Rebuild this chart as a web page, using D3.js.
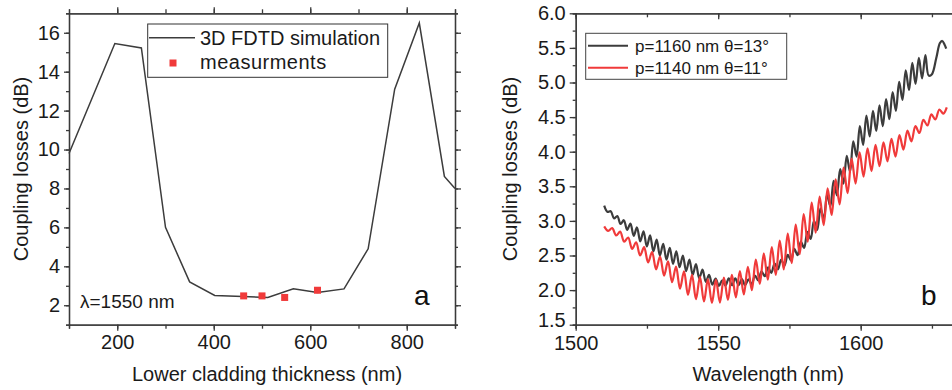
<!DOCTYPE html>
<html><head><meta charset="utf-8">
<script src="https://cdn.jsdelivr.net/npm/d3@7"></script>
<style>
body{margin:0;background:#fff;}
svg{display:block;font-family:"Liberation Sans",Arial,sans-serif;}
</style></head>
<body><svg id="c" width="952" height="390"></svg>
<script>
// ---- Panel a data ----
const simThickness = [100, 195, 250, 300, 350, 402, 460, 512, 565, 615, 670, 720, 775, 826, 878, 900];
const simLoss      = [9.8, 15.45, 15.22, 6.0, 3.2, 2.5, 2.45, 2.4, 2.85, 2.66, 2.84, 4.9, 13.1, 16.5, 8.62, 8.0];
const measThickness = [462, 500, 547, 615];
const measLoss      = [2.48, 2.48, 2.4, 2.77];
const aXTicks = [200, 400, 600, 800];
const aYTicks = [2, 4, 6, 8, 10, 12, 14, 16];

// ---- Panel b data (peaks / troughs) ----
const blackWl = [1510.0,1511.15,1512.3,1513.45,1514.6,1515.75,1516.9,1518.05,1519.2,1520.35,1521.5,1522.65,1523.8,1524.95,1526.1,1527.25,1528.4,1529.55,1530.7,1531.85,1533.0,1534.15,1535.3,1536.45,1537.6,1538.75,1539.9,1541.05,1542.2,1543.35,1544.5,1545.65,1546.8,1547.95,1549.1,1550.25,1551.4,1552.55,1553.7,1554.85,1556.0,1557.15,1558.3,1559.45,1560.6,1561.75,1562.9,1564.05,1565.2,1566.35,1567.5,1568.65,1569.8,1570.95,1572.1,1573.25,1574.4,1575.55,1576.7,1577.85,1579.0,1580.15,1581.3,1582.45,1583.6,1584.75,1585.9,1587.05,1588.2,1589.35,1590.5,1591.65,1592.8,1593.95,1595.1,1596.25,1597.4,1598.55,1599.7,1600.85,1602.0,1603.15,1604.3,1605.45,1606.6,1607.75,1608.9,1610.05,1611.2,1612.35,1613.5,1614.65,1615.8,1616.95,1618.1,1619.25,1620.4,1621.55,1622.7,1623.85,1625.0,1626.5,1627.8,1628.6,1629.4,1630.0];
const blackLoss = [3.22,3.13,3.14,3.035,3.07,2.955,3.01,2.87,2.96,2.785,2.905,2.705,2.85,2.63,2.79,2.56,2.73,2.50,2.67,2.44,2.61,2.38,2.56,2.33,2.50,2.275,2.44,2.22,2.375,2.17,2.295,2.12,2.22,2.08,2.165,2.06,2.14,2.065,2.17,2.07,2.17,2.07,2.16,2.07,2.155,2.085,2.21,2.14,2.27,2.20,2.33,2.25,2.385,2.30,2.44,2.355,2.51,2.43,2.595,2.505,2.70,2.61,2.84,2.74,3.00,2.87,3.18,3.03,3.38,3.21,3.58,3.37,3.75,3.54,3.94,3.71,4.15,3.93,4.37,4.10,4.52,4.22,4.59,4.30,4.67,4.37,4.76,4.47,4.86,4.59,5.01,4.75,5.175,4.89,5.285,4.98,5.355,5.06,5.395,5.10,5.12,5.35,5.57,5.60,5.55,5.49];
const redWl = [1510.0,1511.4,1512.8,1514.2,1515.6,1517.0,1518.4,1519.8,1521.2,1522.6,1524.0,1525.4,1526.8,1528.2,1529.6,1531.0,1532.4,1533.8,1535.2,1536.6,1538.0,1539.4,1540.8,1542.2,1543.6,1545.0,1546.4,1547.8,1549.2,1550.6,1552.0,1553.4,1554.8,1556.2,1557.6,1559.0,1560.4,1561.8,1563.2,1564.6,1566.0,1567.4,1568.8,1570.2,1571.6,1573.0,1574.4,1575.8,1577.2,1578.6,1580.0,1581.4,1582.8,1584.2,1585.6,1587.0,1588.4,1589.8,1591.2,1592.6,1594.0,1595.4,1596.8,1598.2,1599.6,1601.0,1602.4,1603.8,1605.2,1606.6,1608.0,1609.4,1610.8,1612.2,1613.6,1615.0,1616.4,1617.8,1619.2,1620.6,1622.0,1623.4,1624.8,1626.2,1627.6,1629.0,1630.2];
const redLoss = [2.92,2.855,2.895,2.79,2.845,2.70,2.76,2.595,2.69,2.50,2.62,2.40,2.55,2.30,2.485,2.21,2.415,2.115,2.34,2.02,2.27,1.93,2.22,1.87,2.19,1.835,2.16,1.815,2.15,1.82,2.18,1.86,2.22,1.895,2.275,1.937,2.337,2.00,2.44,2.09,2.53,2.15,2.62,2.22,2.715,2.30,2.815,2.39,2.945,2.52,3.10,2.70,3.265,2.83,3.35,2.94,3.47,3.085,3.60,3.24,3.77,3.40,3.90,3.54,3.99,3.64,4.05,3.72,4.10,3.79,4.135,3.86,4.185,3.93,4.24,4.03,4.305,4.15,4.37,4.27,4.46,4.38,4.54,4.465,4.61,4.55,4.64];
const bXTicks = [1500, 1550, 1600];
const bYTicks = [1.5, 2.0, 2.5, 3.0, 3.5, 4.0, 4.5, 5.0, 5.5, 6.0];
const legendB = ["p=1160 nm θ=13°", "p=1140 nm θ=11°"];
const colBlack = "#3c3c3c", colRed = "#f03a3a", axisCol = "#3a3a3a";

const svg = d3.select("#c");
const FS = 20;

function styleAxis(sel, fs) {
  sel.selectAll("path.domain").attr("stroke", axisCol).attr("stroke-width", 1.3);
  sel.selectAll(".tick line").attr("stroke", axisCol).attr("stroke-width", 1.3);
  sel.selectAll(".tick text").attr("fill", "#1a1a1a").style("font-size", fs + "px").style("font-family", "Liberation Sans, Arial, sans-serif");
}
function minors(scale, step) {
  const [a, b] = scale.domain();
  const out = [];
  for (let v = Math.ceil(a / step) * step; v <= b + 1e-9; v += step) out.push(+v.toFixed(6));
  return out;
}

// ===== Panel a =====
const ax = d3.scaleLinear().domain([100, 900]).range([69, 455]);
const ay = d3.scaleLinear().domain([1, 17]).range([324.7, 13.3]);
const ga = svg.append("g");

ga.append("g").attr("transform", "translate(0,324.7)").call(d3.axisBottom(ax).tickValues(minors(ax, 100)).tickSize(4).tickFormat("")).call(s => styleAxis(s, FS));
ga.append("g").attr("transform", "translate(0,13.3)").call(d3.axisTop(ax).tickValues(minors(ax, 100)).tickSize(4).tickFormat("")).call(s => styleAxis(s, FS));
ga.append("g").attr("transform", "translate(69,0)").call(d3.axisLeft(ay).tickValues(minors(ay, 1)).tickSize(3).tickFormat("")).call(s => styleAxis(s, FS));
ga.append("g").attr("transform", "translate(455,0)").call(d3.axisRight(ay).tickValues(minors(ay, 1)).tickSize(3).tickFormat("")).call(s => styleAxis(s, FS));
ga.append("g").attr("transform", "translate(0,324.7)").call(d3.axisBottom(ax).tickValues(aXTicks).tickSize(6).tickPadding(4).tickSizeOuter(0)).call(s => styleAxis(s, FS));
ga.append("g").attr("transform", "translate(0,13.3)").call(d3.axisTop(ax).tickValues(aXTicks).tickSize(6).tickFormat("").tickSizeOuter(0)).call(s => styleAxis(s, FS));
ga.append("g").attr("transform", "translate(69,0)").call(d3.axisLeft(ay).tickValues(aYTicks).tickSize(5).tickPadding(4).tickSizeOuter(0)).call(s => styleAxis(s, FS));
ga.append("g").attr("transform", "translate(455,0)").call(d3.axisRight(ay).tickValues(aYTicks).tickSize(6).tickFormat("").tickSizeOuter(0)).call(s => styleAxis(s, FS));

const simData = simThickness.map((t, i) => [t, simLoss[i]]);
ga.append("path").datum(simData)
  .attr("d", d3.line().x(d => ax(d[0])).y(d => ay(d[1])))
  .attr("fill", "none").attr("stroke", colBlack).attr("stroke-width", 1.5);
ga.selectAll("rect.m").data(measThickness.map((t, i) => [t, measLoss[i]])).join("rect")
  .attr("x", d => ax(d[0]) - 3.5).attr("y", d => ay(d[1]) - 3.5).attr("width", 7).attr("height", 7)
  .attr("fill", colRed);

ga.append("rect").attr("x", 147.7).attr("y", 24).attr("width", 240).attr("height", 53.3)
  .attr("fill", "#fff").attr("stroke", "#333").attr("stroke-width", 1);
ga.append("line").attr("x1", 149).attr("x2", 195).attr("y1", 37.7).attr("y2", 37.7).attr("stroke", colBlack).attr("stroke-width", 1.5);
ga.append("text").attr("x", 200).attr("y", 45).text("3D FDTD simulation").style("font-size", "20px").attr("fill", "#1a1a1a");
ga.append("rect").attr("x", 169.5).attr("y", 59.5).attr("width", 7).attr("height", 7).attr("fill", colRed);
ga.append("text").attr("x", 200).attr("y", 69).text("measurments").style("font-size", "20px").attr("fill", "#1a1a1a").attr("letter-spacing", "0.5px");

ga.append("text").attr("x", 80).attr("y", 308).text("λ=1550 nm").style("font-size", "19px").attr("fill", "#1a1a1a");
ga.append("text").attr("x", 414).attr("y", 305).text("a").style("font-size", "28px").attr("fill", "#111");
ga.append("text").attr("x", ax(500) + 5).attr("y", 381).attr("text-anchor", "middle").text("Lower cladding thickness (nm)").style("font-size", "20px").attr("fill", "#1a1a1a");
ga.append("text").attr("transform", "translate(28,169) rotate(-90)").attr("text-anchor", "middle").text("Coupling losses (dB)").style("font-size", "20px").attr("fill", "#1a1a1a");

// ===== Panel b =====
const bx = d3.scaleLinear().domain([1500, 1635]).range([575.7, 575.7 + 2.85 * 135]);
const by = d3.scaleLinear().domain([1.5, 6.0]).range([324.7, 13.3]);
const gb = svg.append("g");
gb.append("g").attr("transform", "translate(0,324.7)").call(d3.axisBottom(bx).tickValues(minors(bx, 25)).tickSize(4).tickFormat("")).call(s => styleAxis(s, FS));
gb.append("g").attr("transform", "translate(0,13.3)").call(d3.axisBottom(bx).tickValues(minors(bx, 25)).tickSize(4).tickFormat("")).call(s => styleAxis(s, FS));
gb.append("g").attr("transform", "translate(575.7,0)").call(d3.axisLeft(by).tickValues(minors(by, 0.25)).tickSize(3).tickFormat("")).call(s => styleAxis(s, FS));
gb.append("g").attr("transform", "translate(0,324.7)").call(d3.axisBottom(bx).tickValues(bXTicks).tickSize(6).tickPadding(5).tickFormat(d3.format("d")).tickSizeOuter(0)).call(s => styleAxis(s, FS));
gb.append("g").attr("transform", "translate(0,13.3)").call(d3.axisBottom(bx).tickValues(bXTicks).tickSize(6).tickFormat("").tickSizeOuter(0)).call(s => styleAxis(s, FS));
const byAxis = gb.append("g").attr("transform", "translate(575.7,0)").call(d3.axisLeft(by).tickValues(bYTicks).tickSize(6).tickPadding(4).tickFormat(d3.format(".1f")).tickSizeOuter(0)).call(s => styleAxis(s, FS));
byAxis.selectAll(".tick text").filter(d => d === 1.5).attr("dy", "0.1em");

const lineB = d3.line().x(d => bx(d[0])).y(d => by(d[1])).curve(d3.curveCatmullRom.alpha(0.5));
gb.append("path").datum(blackWl.map((w, i) => [w, blackLoss[i]]))
  .attr("d", lineB).attr("fill", "none").attr("stroke", colBlack).attr("stroke-width", 2.2).attr("stroke-linejoin", "round");
gb.append("path").datum(redWl.map((w, i) => [w, redLoss[i]]))
  .attr("d", lineB).attr("fill", "none").attr("stroke", colRed).attr("stroke-width", 2.2).attr("stroke-linejoin", "round");

gb.append("rect").attr("x", 585.7).attr("y", 33.3).attr("width", 201).attr("height", 46)
  .attr("fill", "#fff").attr("stroke", "#444").attr("stroke-width", 1);
[colBlack, colRed].forEach((c, i) => {
  gb.append("line").attr("x1", 588).attr("x2", 628).attr("y1", 45.7 + i * 22).attr("y2", 45.7 + i * 22).attr("stroke", c).attr("stroke-width", 2);
  gb.append("text").attr("x", 635).attr("y", 51.5 + i * 22).text(legendB[i]).style("font-size", "17px").attr("fill", "#1a1a1a");
});
gb.append("text").attr("x", 921).attr("y", 305).text("b").style("font-size", "28px").attr("fill", "#111");
gb.append("text").attr("x", bx(1550) + 50).attr("y", 381).attr("text-anchor", "middle").text("Wavelength (nm)").style("font-size", "20px").attr("fill", "#1a1a1a");
gb.append("text").attr("transform", "translate(516.5,169) rotate(-90)").attr("text-anchor", "middle").text("Coupling losses (dB)").style("font-size", "20px").attr("fill", "#1a1a1a");
</script></body></html>
